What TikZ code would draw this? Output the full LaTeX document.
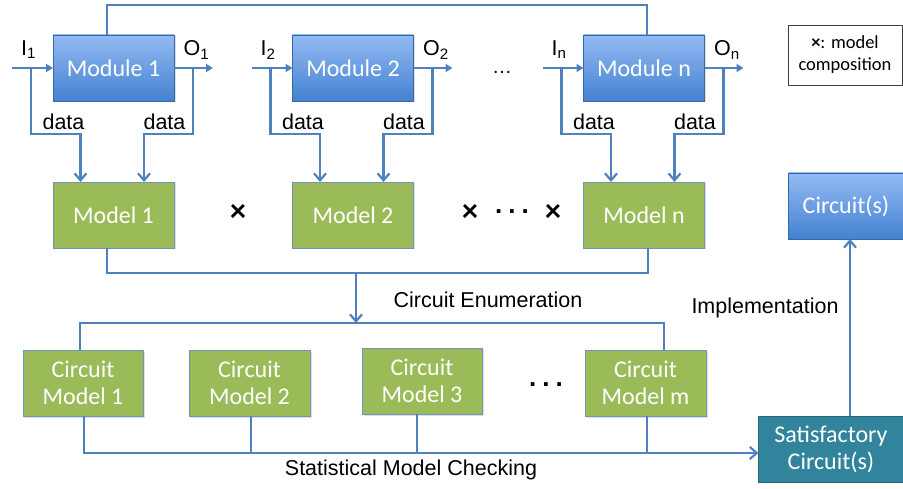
\documentclass[tikz,border=0pt]{standalone}
\usepackage{fontspec}
\setmainfont{Liberation Sans}
\newfontfamily\boxfont{Carlito}
\usetikzlibrary{arrows.meta,shadows}
\definecolor{lineblue}{HTML}{4F81BD}
\definecolor{modtop}{HTML}{93BAF2}
\definecolor{modbot}{HTML}{4482D2}
\definecolor{modgreen}{HTML}{9BBB59}
\definecolor{greenborder}{HTML}{7393BD}
\definecolor{teal}{HTML}{31849B}
\tikzset{
  every node/.style={inner sep=0pt, outer sep=0pt},
  modbox/.style={rectangle, top color=modtop, bottom color=modbot, draw=modbot!80!black, line width=0.6pt,
    minimum width=121pt, minimum height=66pt, text=white, font=\boxfont\fontsize{24}{27}\selectfont,
    align=center, drop shadow={opacity=0.25, shadow xshift=1.5pt, shadow yshift=-1.5pt}},
  greenbox/.style={rectangle, fill=modgreen, draw=greenborder, line width=0.8pt,
    minimum width=121pt, minimum height=66pt, text=white, font=\boxfont\fontsize{24}{27}\selectfont,
    align=center, drop shadow={opacity=0.25, shadow xshift=1.5pt, shadow yshift=-1.5pt}},
  tealbox/.style={rectangle, fill=teal, draw=teal!80!black, line width=0.6pt,
    minimum width=145pt, minimum height=66pt, text=white, font=\boxfont\fontsize{24}{27}\selectfont,
    align=center},
  conn/.style={draw=lineblue, line width=2.4pt},
  tri/.style={conn, -{Triangle[length=7pt,width=8pt]}},
  barb/.style={conn, -{Straight Barb[length=7pt,width=12pt,line width=2.2pt]}},
  lbl/.style={font=\fontsize{21.5}{24}\selectfont, text=black},
  times/.style={font=\boxfont\bfseries\fontsize{32}{32}\selectfont, text=black},
  dots/.style={font=\bfseries\fontsize{26}{26}\selectfont, text=black}
}
\begin{document}
\begin{tikzpicture}[x=1pt,y=-1pt]
\useasboundingbox (0,0) rectangle (903,489);

% modules
\node[modbox] (m1) at (113.5,68) {Module 1};
\node[modbox] (m2) at (353,68) {Module 2};
\node[modbox] (mn) at (644,68) {Module n};
% models
\node[greenbox] (md1) at (113.5,215) {Model 1};
\node[greenbox] (md2) at (353,215) {Model 2};
\node[greenbox] (mdn) at (644,215) {Model n};
% circuit models
\node[greenbox, minimum width=120pt] (cm1) at (83,383) {Circuit\\Model 1};
\node[greenbox, minimum width=121pt] (cm2) at (249.5,383) {Circuit\\Model 2};
\node[greenbox, minimum width=120pt] (cm3) at (422,381) {Circuit\\Model 3};
\node[greenbox, minimum width=121pt] (cmm) at (645.5,383) {Circuit\\Model m};
% outputs
\node[tealbox] (sat) at (831,449) {Satisfactory\\Circuit(s)};
\node[modbox, minimum width=115pt] (circ) at (846,206) {Circuit(s)};
% legend
\node[draw=black!75, line width=0.8pt, minimum width=114pt, minimum height=60pt, align=center,
  font=\boxfont\fontsize{18.5}{22}\selectfont] (leg) at (845,55) {{\bfseries ×}: model\\composition};

% module I/O and data connectors
\foreach \m/\d/\c/\k in {m1/md1/113.5/1, m2/md2/353/2, mn/mdn/644/n}{
  \coordinate (in\k) at (\c-101.5,68);
  \coordinate (out\k) at (\c+99.5,68);
  \coordinate (bi\k) at (\c-82.5,68);
  \coordinate (bo\k) at (\c+79.5,68);
  \draw[tri] (in\k) -- (\m.west);
  \draw[tri] (\m.east) -- (out\k);
  \draw[barb] (bi\k) -- ++(0,66) -| ([xshift=-33pt]\d.north);
  \draw[barb] (bo\k) -- ++(0,66) -| ([xshift=30.5pt]\d.north);
  \node[lbl] (li\k) at (\c-85,50) {I\textsubscript{\k}};
  \node[lbl] (lo\k) at (\c+83,50) {O\textsubscript{\k}};
  \node[lbl] (ld\k) at (\c-50,122) {data};
  \node[lbl] (le\k) at (\c+51,122) {data};
}
\node[font=\fontsize{20}{20}\selectfont] (dtop) at (502,72) {…};

% top feedback line
\draw[conn] ([xshift=-6.5pt]m1.north) -- ++(0,-30) -| ([xshift=3pt]mn.north);

% composition symbols
\node[times] (x1) at (238,213) {×};
\node[times] (x2) at (470,213) {×};
\node[dots] (dmid) at (512,212) {.\hspace{6pt}.\hspace{6pt}.};
\node[times] (x3) at (553,213) {×};

% circuit enumeration
\draw[conn] ([xshift=-6.5pt]md1.south) -- ++(0,25) -| ([xshift=4pt]mdn.south);
\coordinate (ej) at (356,273);
\coordinate (ek) at (356,323);
\draw[barb] (ej) -- (ek);
\draw[conn] ([xshift=-3pt]cm1.north) -- ++(0,-27) -| ([xshift=18.5pt]cmm.north);
\node[lbl] (lenum) at (488,300) {Circuit Enumeration};

% circuit models dots
\node[dots] (dlow) at (546,385) {.\hspace{6pt}.\hspace{6pt}.};

% statistical model checking
\draw[barb] ([xshift=1pt]cm1.south) |- ([yshift=-4pt]sat.west);
\draw[conn] ([xshift=1.5pt]cm2.south) -- ++(0,37);
\draw[conn] ([xshift=-5pt]cm3.south) -- ++(0,39);
\draw[conn] ([xshift=1.5pt]cmm.south) -- ++(0,37);
\node[lbl] (lsmc) at (411,470) {Statistical Model Checking};

% implementation
\draw[barb] ([xshift=19pt]sat.north) -- ([xshift=4pt]circ.south);
\node[lbl] (limpl) at (765,308) {Implementation};
\end{tikzpicture}
\end{document}
